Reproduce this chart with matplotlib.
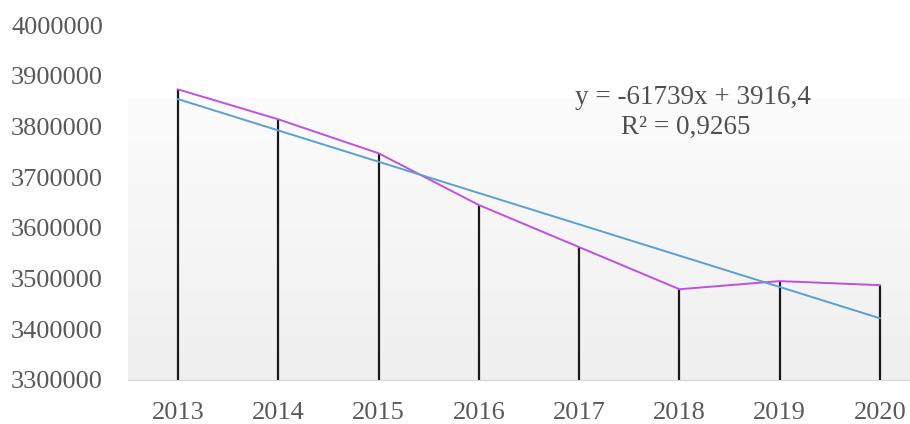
import matplotlib
matplotlib.use("Agg")
import matplotlib.pyplot as plt
import numpy as np
from matplotlib.colors import LinearSegmentedColormap

years = ["2013", "2014", "2015", "2016", "2017", "2018", "2019", "2020"]
values = [3873000, 3814000, 3747000, 3645000, 3562000, 3479000, 3495000, 3487000]
yticks = [3300000, 3400000, 3500000, 3600000, 3700000, 3800000, 3900000, 4000000]
equation = "y = -61739x + 3916,4"
r2_text = "R² = 0,9265"

W, H = 910, 424
fig = plt.figure(figsize=(W / 100, H / 100), dpi=100)
ax = fig.add_axes([128 / W, 44 / H, 1 - 128 / W, (380 - 25) / H])

x = np.arange(len(years))
ymin, ymax = yticks[0], yticks[-1]
ax.set_xlim(-0.5, 7.3)
ax.set_ylim(ymin, ymax)

# gradient background (plot area)
grad_top = ymin + (380 - 97) / 355 * (ymax - ymin)
cmap = LinearSegmentedColormap.from_list("g", ["#efefef", "#fcfcfc"])
ax.imshow(np.linspace(0, 1, 256).reshape(-1, 1), cmap=cmap, origin="lower",
          extent=[-0.5, 7.3, ymin, grad_top], aspect="auto", zorder=0)

# drop lines
ax.vlines(x, ymin, values, color="#1a1a1a", lw=1.6, zorder=2)
# data line
ax.plot(x, values, color="#c050e0", lw=1.4, zorder=3)
# linear trend
coef = np.polyfit(x, values, 1)
ax.plot(x, np.polyval(coef, x), color="#5aa0d2", lw=1.4, zorder=3)

serif = ["Liberation Serif", "DejaVu Serif"]
fs = 19
ax.set_xticks(x)
ax.set_xticklabels(years, fontfamily=serif, fontsize=fs, color="#595959")
ax.set_yticks(yticks)
ax.set_yticklabels([str(v) for v in yticks], fontfamily=serif, fontsize=fs, color="#595959")
ax.tick_params(axis="both", length=0)
ax.tick_params(axis="y", pad=18)
ax.tick_params(axis="x", pad=16)

for s in ["top", "right", "left"]:
    ax.spines[s].set_visible(False)
ax.spines["bottom"].set_color("#d9d9d9")
ax.spines["bottom"].set_linewidth(1.0)
ax.spines["bottom"].set_zorder(1)

ax.text(693 / W, (424 - 97) / H, equation, transform=fig.transFigure,
        ha="center", va="center", fontfamily=serif, fontsize=19.5, color="#505050")
ax.text(686 / W, (424 - 127) / H, r2_text, transform=fig.transFigure,
        ha="center", va="center", fontfamily=serif, fontsize=19.5, color="#505050")

fig.savefig("out.png", dpi=100)
